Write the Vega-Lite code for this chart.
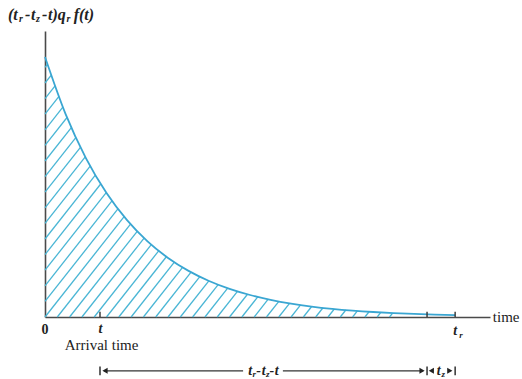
{
  "$schema": "https://vega.github.io/schema/vega-lite/v6.json",
  "width": 445,
  "height": 286,
  "autosize": "none",
  "padding": {"left": 45, "top": 31, "right": 32, "bottom": 62},
  "background": "white",
  "config": {"view": {"stroke": null}},
  "datasets": {
    "curve": [
      {"x": 0, "y": 1.0}, {"x": 0.5, "y": 0.7811}, {"x": 1.0, "y": 0.6102}, {"x": 1.5, "y": 0.4766},
      {"x": 2.0, "y": 0.3723}, {"x": 2.5, "y": 0.2908}, {"x": 3.0, "y": 0.2272}, {"x": 3.5, "y": 0.1775},
      {"x": 4.0, "y": 0.1386}, {"x": 4.5, "y": 0.1083}, {"x": 5.0, "y": 0.0846}, {"x": 5.5, "y": 0.0661},
      {"x": 6.0, "y": 0.0516}, {"x": 6.5, "y": 0.0403}, {"x": 7.0, "y": 0.0315}, {"x": 7.5, "y": 0.0246},
      {"x": 8.0, "y": 0.0192}, {"x": 8.5, "y": 0.015}, {"x": 9.0, "y": 0.0117}, {"x": 9.5, "y": 0.0092},
      {"x": 10.0, "y": 0.0072}
    ],
    "hatch": [
      {"x": 0, "y": 0.06, "x2": 1.778, "y2": 0.4156},
      {"x": 0, "y": 0.12, "x2": 1.633, "y2": 0.4466},
      {"x": 0, "y": 0.18, "x2": 1.492, "y2": 0.4785},
      {"x": 0, "y": 0.24, "x2": 1.358, "y2": 0.5115},
      {"x": 0, "y": 0.30, "x2": 1.227, "y2": 0.5455},
      {"x": 0, "y": 0.36, "x2": 1.102, "y2": 0.5803},
      {"x": 0, "y": 0.42, "x2": 0.981, "y2": 0.6161},
      {"x": 0, "y": 0.48, "x2": 0.864, "y2": 0.6527},
      {"x": 0, "y": 0.54, "x2": 0.751, "y2": 0.6902},
      {"x": 0, "y": 0.60, "x2": 0.642, "y2": 0.7284},
      {"x": 0, "y": 0.66, "x2": 0.537, "y2": 0.7673},
      {"x": 0, "y": 0.72, "x2": 0.435, "y2": 0.807},
      {"x": 0, "y": 0.78, "x2": 0.336, "y2": 0.8473},
      {"x": 0, "y": 0.84, "x2": 0.241, "y2": 0.8882},
      {"x": 0, "y": 0.90, "x2": 0.148, "y2": 0.9297},
      {"x": 0, "y": 0.96, "x2": 0.059, "y2": 0.9717},
      {"x": 0.0, "y": 0, "x2": 1.929, "y2": 0.3858},
      {"x": 0.3, "y": 0, "x2": 2.085, "y2": 0.357},
      {"x": 0.6, "y": 0, "x2": 2.248, "y2": 0.3296},
      {"x": 0.9, "y": 0, "x2": 2.416, "y2": 0.3032},
      {"x": 1.2, "y": 0, "x2": 2.591, "y2": 0.2782},
      {"x": 1.5, "y": 0, "x2": 2.772, "y2": 0.2544},
      {"x": 1.8, "y": 0, "x2": 2.959, "y2": 0.2318},
      {"x": 2.1, "y": 0, "x2": 3.154, "y2": 0.2108},
      {"x": 2.4, "y": 0, "x2": 3.354, "y2": 0.1908},
      {"x": 2.7, "y": 0, "x2": 3.562, "y2": 0.1724},
      {"x": 3.0, "y": 0, "x2": 3.775, "y2": 0.155},
      {"x": 3.3, "y": 0, "x2": 3.995, "y2": 0.139},
      {"x": 3.6, "y": 0, "x2": 4.222, "y2": 0.1244},
      {"x": 3.9, "y": 0, "x2": 4.454, "y2": 0.1108},
      {"x": 4.2, "y": 0, "x2": 4.693, "y2": 0.0986},
      {"x": 4.5, "y": 0, "x2": 4.937, "y2": 0.0874},
      {"x": 4.8, "y": 0, "x2": 5.188, "y2": 0.0776},
      {"x": 5.1, "y": 0, "x2": 5.442, "y2": 0.0684},
      {"x": 5.4, "y": 0, "x2": 5.702, "y2": 0.0604},
      {"x": 5.7, "y": 0, "x2": 5.963, "y2": 0.0526},
      {"x": 6.0, "y": 0, "x2": 6.232, "y2": 0.0464},
      {"x": 6.3, "y": 0, "x2": 6.502, "y2": 0.0404},
      {"x": 6.6, "y": 0, "x2": 6.778, "y2": 0.0356},
      {"x": 6.9, "y": 0, "x2": 7.054, "y2": 0.0308},
      {"x": 7.2, "y": 0, "x2": 7.335, "y2": 0.027},
      {"x": 7.5, "y": 0, "x2": 7.617, "y2": 0.0234},
      {"x": 7.8, "y": 0, "x2": 7.901, "y2": 0.0202},
      {"x": 8.1, "y": 0, "x2": 8.188, "y2": 0.0176},
      {"x": 8.4, "y": 0, "x2": 8.476, "y2": 0.0152}
    ],
    "axisTicks": [
      {"x": 1.341, "y": 0, "y2": 0.02},
      {"x": 9.315, "y": 0, "y2": 0.02},
      {"x": 10.0, "y": 0, "y2": 0.02}
    ],
    "dimBars": [
      {"x": 1.341, "y": -0.19, "y2": -0.224},
      {"x": 9.315, "y": -0.19, "y2": -0.224},
      {"x": 10.0, "y": -0.19, "y2": -0.224}
    ],
    "dimLines": [
      {"x": 1.44, "x2": 4.83, "y": -0.207},
      {"x": 5.8, "x2": 9.22, "y": -0.207}
    ],
    "arrows": [
      {"x": 1.463, "y": -0.207, "dir": "left"},
      {"x": 9.193, "y": -0.207, "dir": "right"},
      {"x": 9.42, "y": -0.207, "dir": "left"},
      {"x": 9.87, "y": -0.207, "dir": "right"}
    ],
    "titleMain": [
      {"text": "(t", "x": -0.902, "y": 1.1615},
      {"text": "-", "x": -0.488, "y": 1.1615},
      {"text": "t", "x": -0.341, "y": 1.1615},
      {"text": "-", "x": -0.073, "y": 1.1615},
      {"text": "t)q", "x": 0.073, "y": 1.1615},
      {"text": "f(t)", "x": 0.7, "y": 1.1615}
    ],
    "titleSub": [
      {"text": "r", "x": -0.634, "y": 1.145},
      {"text": "z", "x": -0.219, "y": 1.145},
      {"text": "r", "x": 0.524, "y": 1.145}
    ],
    "mathMain": [
      {"text": "t", "x": 1.353, "y": -0.048},
      {"text": "t", "x": 10.0, "y": -0.052},
      {"text": "t", "x": 5.0, "y": -0.206},
      {"text": "-", "x": 5.21, "y": -0.206},
      {"text": "t", "x": 5.33, "y": -0.206},
      {"text": "-", "x": 5.53, "y": -0.206},
      {"text": "t", "x": 5.65, "y": -0.206},
      {"text": "t", "x": 9.6, "y": -0.206}
    ],
    "mathSub": [
      {"text": "r", "x": 10.1, "y": -0.069},
      {"text": "r", "x": 5.06, "y": -0.22},
      {"text": "z", "x": 5.39, "y": -0.22},
      {"text": "z", "x": 9.67, "y": -0.22}
    ],
    "plainCenter": [
      {"text": "Arrival time", "x": 1.378, "y": -0.106}
    ],
    "plainLeft": [
      {"text": "time", "x": 10.92, "y": 0.0}
    ],
    "zero": [{"text": "0", "x": 0.0, "y": -0.05}]
  },
  "encoding": {
    "x": {
      "field": "x", "type": "quantitative",
      "scale": {"domain": [0, 10.85], "nice": false, "zero": false},
      "axis": {"domain": true, "domainColor": "#4a4a4a", "domainWidth": 1.6, "ticks": false, "labels": false, "grid": false, "title": null}
    },
    "y": {
      "field": "y", "type": "quantitative",
      "scale": {"domain": [0, 1.1], "nice": false, "zero": false},
      "axis": {"domain": true, "domainColor": "#4a4a4a", "domainWidth": 1.6, "ticks": false, "labels": false, "grid": false, "title": null}
    }
  },
  "layer": [
    {
      "data": {"name": "hatch"},
      "mark": {"type": "rule", "color": "#4ab6d5", "strokeWidth": 1.3},
      "encoding": {
        "x2": {"field": "x2"},
        "y2": {"field": "y2"}
      }
    },
    {
      "data": {"name": "curve"},
      "mark": {"type": "line", "color": "#3aa6d2", "strokeWidth": 1.8, "interpolate": "monotone"},
      "encoding": {}
    },
    {
      "data": {"name": "axisTicks"},
      "mark": {"type": "rule", "color": "#333333", "strokeWidth": 1.4},
      "encoding": {"y2": {"field": "y2"}}
    },
    {
      "data": {"name": "dimBars"},
      "mark": {"type": "rule", "color": "#222222", "strokeWidth": 1.4},
      "encoding": {"y2": {"field": "y2"}}
    },
    {
      "data": {"name": "dimLines"},
      "mark": {"type": "rule", "color": "#333333", "strokeWidth": 1.2},
      "encoding": {"x2": {"field": "x2"}}
    },
    {
      "data": {"name": "arrows"},
      "mark": {"type": "point", "filled": true, "color": "#222222", "size": 36, "opacity": 1},
      "encoding": {
        "shape": {"field": "dir", "type": "nominal", "scale": {"domain": ["left", "right"], "range": ["triangle-left", "triangle-right"]}, "legend": null}
      }
    },
    {
      "data": {"name": "titleMain"},
      "mark": {"type": "text", "align": "left", "baseline": "middle", "font": "Liberation Serif", "fontSize": 16, "fontWeight": "bold", "fontStyle": "italic", "color": "#222222"},
      "encoding": {"text": {"field": "text"}}
    },
    {
      "data": {"name": "titleSub"},
      "mark": {"type": "text", "align": "left", "baseline": "middle", "font": "Liberation Serif", "fontSize": 10, "fontWeight": "bold", "fontStyle": "italic", "color": "#222222"},
      "encoding": {"text": {"field": "text"}}
    },
    {
      "data": {"name": "mathMain"},
      "mark": {"type": "text", "align": "center", "baseline": "middle", "font": "Liberation Serif", "fontSize": 14, "fontWeight": "bold", "fontStyle": "italic", "color": "#222222"},
      "encoding": {"text": {"field": "text"}}
    },
    {
      "data": {"name": "mathSub"},
      "mark": {"type": "text", "align": "left", "baseline": "middle", "font": "Liberation Serif", "fontSize": 9, "fontWeight": "bold", "fontStyle": "italic", "color": "#222222"},
      "encoding": {"text": {"field": "text"}}
    },
    {
      "data": {"name": "plainCenter"},
      "mark": {"type": "text", "align": "center", "baseline": "middle", "font": "Liberation Serif", "fontSize": 15, "color": "#222222"},
      "encoding": {"text": {"field": "text"}}
    },
    {
      "data": {"name": "plainLeft"},
      "mark": {"type": "text", "align": "left", "baseline": "middle", "font": "Liberation Serif", "fontSize": 15, "color": "#222222"},
      "encoding": {"text": {"field": "text"}}
    },
    {
      "data": {"name": "zero"},
      "mark": {"type": "text", "align": "center", "baseline": "middle", "font": "Liberation Serif", "fontSize": 14, "fontWeight": "bold", "color": "#222222"},
      "encoding": {"text": {"field": "text"}}
    }
  ]
}
